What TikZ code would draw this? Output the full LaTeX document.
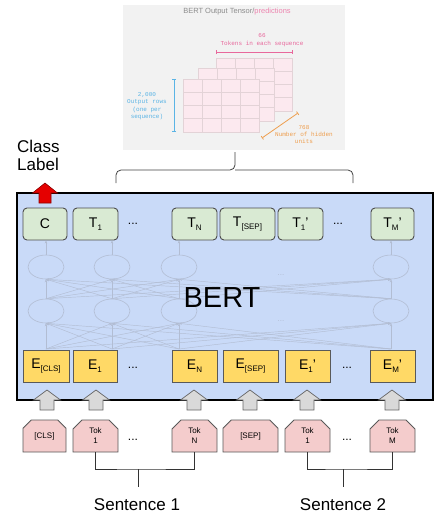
\documentclass[tikz,border=0pt]{standalone}
\usepackage{fontspec}
\setmainfont{Liberation Sans}
\newfontfamily\monof{Liberation Mono}
\usetikzlibrary{shapes.misc,shapes.geometric,arrows.meta,calc}
\definecolor{bertbg}{HTML}{C9DAF8}
\definecolor{tfill}{HTML}{D9EAD3}
\definecolor{efill}{HTML}{FFD966}
\definecolor{tokfill}{HTML}{F4CCCC}
\definecolor{netc}{HTML}{B2BDD3}
\definecolor{tensbg}{HTML}{F2F2F2}
\definecolor{cellf}{HTML}{FCE9EF}
\definecolor{celld}{HTML}{E3D3D7}
\definecolor{pinkt}{HTML}{E8689C}
\definecolor{bluet}{HTML}{5AB4E5}
\definecolor{orant}{HTML}{EE9E4E}
\definecolor{arrg}{HTML}{D9D9D9}
\newcommand{\subtx}[1]{\raisebox{-0.45ex}{\fontsize{8}{8}\selectfont #1}}
\tikzset{
  x=1pt, y=-1pt,
  tbox/.style={draw=black!70, fill=tfill, rounded corners=4pt, line width=0.9pt, minimum height=32pt, inner sep=0pt, font=\fontsize{14}{14}\selectfont},
  ebox/.style={draw=black!65, fill=efill, line width=0.7pt, minimum height=32pt, inner sep=0pt, font=\fontsize{14}{14}\selectfont},
  tokbox/.style={chamfered rectangle, chamfered rectangle corners={north west,north east}, chamfered rectangle xsep=4.5pt, chamfered rectangle ysep=4.5pt, draw=black!65, fill=tokfill, line width=0.8pt, minimum height=32pt, inner sep=0pt, align=center, font=\fontsize{8}{10}\selectfont},
  dotsl/.style={font=\fontsize{12}{12}\selectfont},
  neur/.style={ellipse, draw=netc, line width=0.6pt, minimum width=36pt, minimum height=24pt, inner sep=0pt},
  netline/.style={draw=netc, line width=0.45pt, -{Stealth[length=3pt,width=2.5pt]}},
  uparr/.pic={\path[pic actions] (-7,10) -- (-7,0) -- (-13.5,0) -- (0,-10) -- (13.5,0) -- (7,0) -- (7,10) -- cycle;},
  redarr/.pic={\path[pic actions] (-6,10) -- (-6,0) -- (-12.5,0) -- (0,-10) -- (12.5,0) -- (6,0) -- (6,10) -- cycle;},
  monotxt/.style={font=\monof\fontsize{6}{7.4}\selectfont, align=center, inner sep=0pt},
  cell/.style={fill=cellf, draw=celld, line width=0.6pt},
  barline/.style={line width=0.8pt, {Bar[width=4pt]}-{Bar[width=4pt]}},
}
\begin{document}
\begin{tikzpicture}
\useasboundingbox (0,0) rectangle (447,523);
% ---------- output tensor
\fill[tensbg] (123,5) rectangle (345,150);
\node[font=\fontsize{7.5}{8}\selectfont, text=black!45, inner sep=0pt] (ttl) at (237,12) {BERT Output Tensor/\textcolor{pinkt!80}{predictions}};
\foreach \dx/\dy in {33/-21,15/-11,0/0}{
  \path[cell] (183+\dx,79+\dy) rectangle (259+\dx,132+\dy);
  \foreach \k in {1,2,3}{
    \draw[celld, line width=0.6pt] (183+\dx+19*\k,79+\dy) -- (183+\dx+19*\k,132+\dy);
    \draw[celld, line width=0.6pt] (183+\dx,79+\dy+13.25*\k) -- (259+\dx,79+\dy+13.25*\k);
  }
}
\coordinate (pk1) at (216,52); \coordinate (pk2) at (293,52);
\draw[barline, pinkt] (pk1) -- (pk2);
\node[monotxt, text=pinkt] (tokseq) at (262,40) {66\\Tokens in each sequence};
\coordinate (bl1) at (174,79); \coordinate (bl2) at (174,132);
\draw[barline, bluet] (bl1) -- (bl2);
\node[monotxt, text=bluet] (rows) at (147,106) {2,000\\Output rows\\(one per\\sequence)};
\coordinate (or1) at (262,138); \coordinate (or2) at (298,113);
\draw[barline, orant] (or1) -- (or2);
\node[monotxt, text=orant] (hid) at (304,134.5) {768\\Number of hidden\\units};
% ---------- brace
\coordinate (brL) at (116,183); \coordinate (brR) at (353,183); \coordinate (brT) at (235,152);
\draw[black!75, line width=0.8pt, rounded corners=5pt] (brL) -- (116,170) -- (235,170) -- (brT);
\draw[black!75, line width=0.8pt, rounded corners=5pt] (brR) -- (353,170) -- (235,170);
% ---------- class label
\node[anchor=west, align=left, font=\fontsize{17}{18}\selectfont, inner sep=0pt] (cls) at (17,155) {Class\\Label};
% ---------- BERT box
\node[draw=black, line width=2.4pt, fill=bertbg, minimum width=416pt, minimum height=207pt, inner sep=0pt] (bert) at (225,296.5) {};
% ---------- network
\foreach \i/\x in {1/46,2/112,3/179,4/391}{
  \node[neur] (u\i) at (\x,267) {};
  \node[neur] (l\i) at (\x,311) {};
  \coordinate (b\i) at (\x,349);
}
\foreach \i in {1,...,4}{
  \foreach \j in {1,...,4}{
    \draw[netline] (l\i.north) -- (u\j.south);
    \draw[netline] (b\i) -- (l\j.south);
  }
}
\node[text=netc, font=\fontsize{8}{8}\selectfont] (nd1) at (281,275) {...};
\node[text=netc, font=\fontsize{8}{8}\selectfont] (nd2) at (281,321) {...};
\node[font=\fontsize{29}{29}\selectfont, inner sep=0pt] (berttxt) at (222,298) {BERT};
% ---------- T row
\node[tbox, minimum width=44pt] (tC) at (45,224) {C};
\node[tbox, minimum width=45pt] (t1) at (95.5,224) {T\subtx{1}};
\node[dotsl] (td1) at (133,224) {...};
\node[tbox, minimum width=45pt] (tN) at (194.5,224) {T\subtx{N}};
\node[tbox, minimum width=55pt] (tS) at (247.5,224) {T\subtx{[SEP]}};
\node[tbox, minimum width=45pt] (t1b) at (300.5,224) {T\subtx{1}'};
\node[dotsl] (td2) at (338,224) {...};
\node[tbox, minimum width=43pt] (tM) at (392.5,224) {T\subtx{M}'};
\draw[netline] (u1.north) -- (u1.north |- tC.south);
\draw[netline] (u2.north) -- (u2.north |- t1.south);
\draw[netline] (u3.north) -- (u3.north |- tN.south);
\draw[netline] (u4.north) -- (u4.north |- tM.south);
% ---------- E row
\node[ebox, minimum width=46pt] (eC) at (46,366) {E\subtx{[CLS]}};
\node[ebox, minimum width=44pt] (e1) at (95,366) {E\subtx{1}};
\node[dotsl] (ed1) at (133,368) {...};
\node[ebox, minimum width=45pt] (eN) at (194.5,366) {E\subtx{N}};
\node[ebox, minimum width=55pt] (eS) at (250.5,366) {E\subtx{[SEP]}};
\node[ebox, minimum width=45pt] (e1b) at (307.5,366) {E\subtx{1}'};
\node[dotsl] (ed2) at (347,368) {...};
\node[ebox, minimum width=45pt] (eM) at (392.5,366) {E\subtx{M}'};
% ---------- red arrow
\pic[fill=red!90!black, draw=red!55!black, line width=0.6pt] at (45,193) {redarr};
% ---------- token row
\node[tokbox, minimum width=43pt] (kC) at (44.5,436) {[CLS]};
\node[tokbox, minimum width=45pt] (k1) at (95.5,436) {Tok\\1};
\node[dotsl] (kd1) at (133,440) {...};
\node[tokbox, minimum width=45pt] (kN) at (194.5,436) {Tok\\N};
\node[tokbox, minimum width=55pt] (kS) at (250.5,436) {[SEP]};
\node[tokbox, minimum width=45pt] (k1b) at (307.5,436) {Tok\\1};
\node[dotsl] (kd2) at (347,440) {...};
\node[tokbox, minimum width=45pt] (kM) at (392.5,436) {Tok\\M};
% ---------- gray arrows
\foreach \x in {47,96,194,250,307,392}{
  \pic[fill=arrg, draw=black!60, line width=0.7pt] at (\x,400) {uparr};
}
% ---------- sentence brackets
\coordinate (s1m) at (138,469); \coordinate (s1b) at (138,487);
\draw[black!80, line width=0.8pt] (k1.south) |- (s1m) -| (kN.south);
\draw[black!80, line width=0.8pt] (s1m) -- (s1b);
\node[font=\fontsize{17}{18}\selectfont, inner sep=0pt] (sen1) at (137,505) {Sentence 1};
\coordinate (s2m) at (343,469); \coordinate (s2b) at (343,487);
\draw[black!80, line width=0.8pt] (k1b.south) |- (s2m) -| (kM.south);
\draw[black!80, line width=0.8pt] (s2m) -- (s2b);
\node[font=\fontsize{17}{18}\selectfont, inner sep=0pt] (sen2) at (343,505) {Sentence 2};
\end{tikzpicture}
\end{document}
